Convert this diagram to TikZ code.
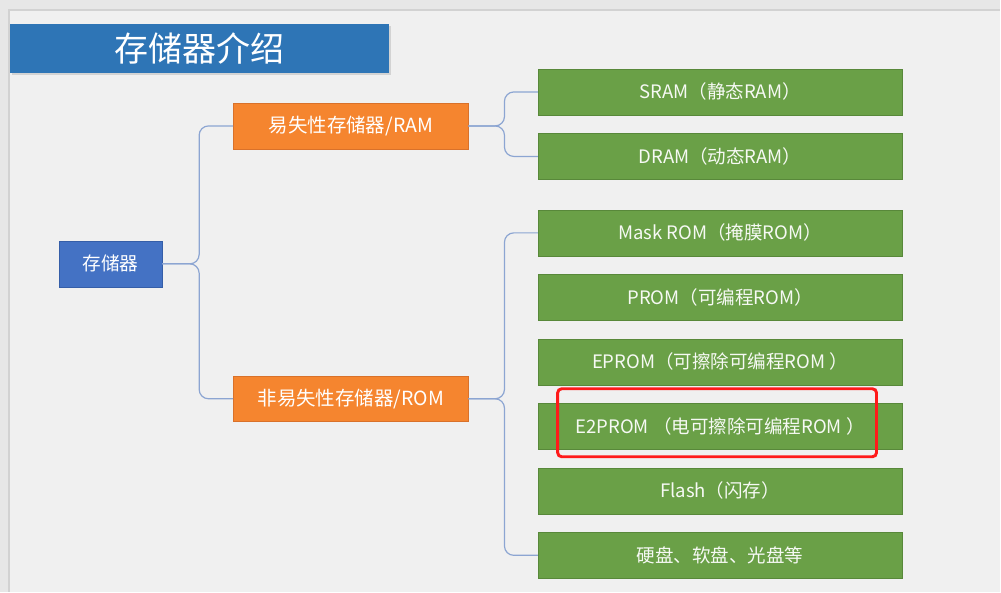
\documentclass[tikz,border=0pt]{standalone}
\usepackage{fontspec}
\setmainfont{Noto Sans CJK SC}
\usetikzlibrary{positioning,calc,shadows}
\definecolor{MemSlide}{HTML}{F0F0F0}
\definecolor{MemFrame}{HTML}{E7E7E7}
\definecolor{MemEdge}{HTML}{D2D2D2}
\definecolor{MemTitle}{HTML}{2E75B6}
\definecolor{MemBlue}{HTML}{4472C4}
\definecolor{MemBlueEdge}{HTML}{355EA8}
\definecolor{MemOrange}{HTML}{F5852F}
\definecolor{MemOrangeEdge}{HTML}{D9712A}
\definecolor{MemGreen}{HTML}{6AA047}
\definecolor{MemGreenEdge}{HTML}{58883A}
\definecolor{MemLink}{HTML}{8CA5D2}
\definecolor{MemRed}{HTML}{FF1A1A}

\begin{document}
\begin{tikzpicture}[x=0.75pt,y=-0.75pt,
    rootbox/.style={draw=MemBlueEdge,fill=MemBlue,text=white,inner sep=0pt,
      minimum width=77.25pt,minimum height=34.5pt,font=\fontsize{14}{16}\selectfont},
    kindbox/.style={draw=MemOrangeEdge,fill=MemOrange,text=white,inner sep=0pt,
      minimum width=176.25pt,minimum height=34.5pt,font=\fontsize{14.6}{17}\selectfont},
    leafbox/.style={draw=MemGreenEdge,fill=MemGreen,text=white!94!MemGreen,inner sep=0pt,
      minimum width=273pt,minimum height=34.5pt,font=\fontsize{13.9}{16}\selectfont},
    link/.style={draw=MemLink,line width=0.9pt,rounded corners=7pt}]
    % slide background and window edges
    \fill[MemSlide] (0,0) rectangle (1001,592);
    \fill[MemFrame] (0,0) rectangle (1001,10);
    \fill[MemFrame] (0,0) rectangle (9,592);
    \draw[MemEdge,line width=0.9pt] (9,592) -- (9,10) -- (1001,10);
    \node[fill=MemTitle,text=white,inner sep=0pt,minimum width=284.25pt,minimum height=36.75pt,
      font=\fontsize{25.5}{28}\selectfont,drop shadow={opacity=0.25,shadow xshift=1.5pt,shadow yshift=-1.5pt}]
      (title) at (199.5,49) {存储器介绍};
    % tree
    \node[rootbox] (root) at (110.5,264) {存储器};
    \node[kindbox] (ram) at (351,126) {易失性存储器/RAM};
    \node[kindbox] (rom) at (351,399) {非易失性存储器/ROM};
    \node[leafbox] (sram) at (720.5,92) {SRAM（静态RAM）};
    \node[leafbox,below=13.5pt of sram] (dram) {DRAM（动态RAM）};
    \node[leafbox] (mask) at (720.5,233) {Mask ROM（掩膜ROM）};
    \node[leafbox,below=13.5pt of mask] (prom) {PROM（可编程ROM）};
    \node[leafbox,below=13.5pt of prom] (eprom) {EPROM（可擦除可编程ROM ）};
    \node[leafbox,below=13.5pt of eprom] (eeprom) {E2PROM （电可擦除可编程ROM ）};
    \node[leafbox,below=13.5pt of eeprom] (flash) {Flash（闪存）};
    \node[leafbox,below=13.5pt of flash] (disk) {硬盘、软盘、光盘等};
    \foreach \k in {ram,rom}
      \draw[link] (root.east) -- ++(37,0) |- (\k.west);
    \foreach \p/\c in {ram/sram,ram/dram,rom/mask,rom/disk}
      \draw[link] (\p.east) -- ++(36,0) |- (\c.west);
    % highlight
    \draw[MemRed,line width=2.2pt,rounded corners=3pt] (558,389) rectangle (877,457);
\end{tikzpicture}
\end{document}
